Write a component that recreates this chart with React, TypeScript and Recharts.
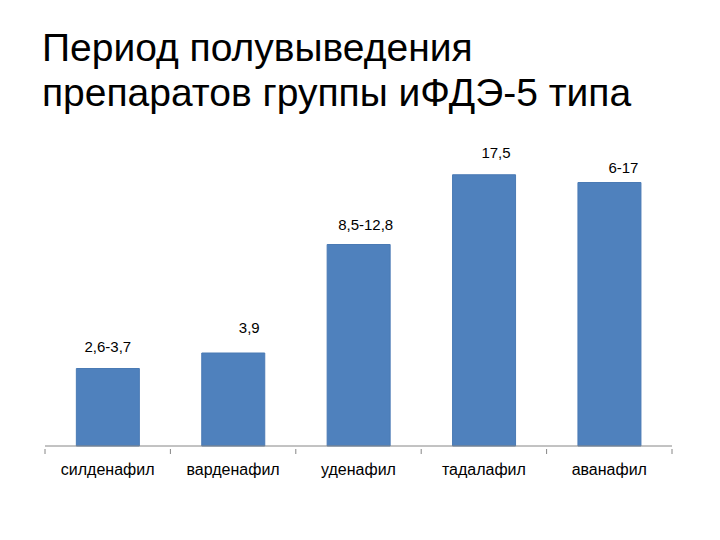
import React from "react";
import { Bar, BarChart, LabelList, XAxis, YAxis } from "recharts";

const drugs = ["силденафил", "варденафил", "уденафил", "тадалафил", "аванафил"];
const halfLifeBars = [5.0, 6.0, 13.0, 17.5, 17.0];
const halfLifeLabels = ["2,6-3,7", "3,9", "8,5-12,8", "17,5", "6-17"];

const W = 720;
const H = 540;
const M = { top: 167, right: 48, bottom: 93, left: 45 };
const BAND = (W - M.left - M.right) / drugs.length;
// nudges for the value labels, as they sit in the original slide
const labelNudge = [
  [0, 17],
  [16, 20],
  [7, 15],
  [12, 17],
  [14, 10],
];

const FONT = '"Liberation Sans", Arial, sans-serif';

const rows = drugs.map((name, i) => ({
  name,
  value: halfLifeBars[i],
  label: halfLifeLabels[i],
}));

function CategoryTick(props: any) {
  const { x, y, payload, index, visibleTicksCount } = props;
  const left = x - BAND / 2;
  const last = index === visibleTicksCount - 1;
  return (
    <g>
      <line x1={left} x2={left} y1={y - 5} y2={y} stroke="#868686" />
      {last && (
        <line x1={left + BAND} x2={left + BAND} y1={y - 5} y2={y} stroke="#868686" />
      )}
      <text x={x} y={y + 21} textAnchor="middle" fontSize={16} fontFamily={FONT} fill="#000">
        {payload.value}
      </text>
    </g>
  );
}

function ValueLabel(props: any) {
  const { x, y, width, value, index } = props;
  const [dx, dy] = labelNudge[index] ?? [0, 15];
  return (
    <text
      x={x + width / 2 + dx}
      y={y - dy}
      textAnchor="middle"
      fontSize={15}
      fontFamily={FONT}
      fill="#000"
    >
      {value}
    </text>
  );
}

export default function App() {
  return (
    <div
      style={{
        position: "fixed",
        left: 0,
        top: 0,
        width: W,
        height: H,
        background: "#fff",
      }}
    >
      <div
        style={{
          position: "absolute",
          left: 42,
          top: 25,
          fontFamily: FONT,
          fontSize: 39,
          lineHeight: "45px",
          color: "#000",
          whiteSpace: "nowrap",
        }}
      >
        Период полувыведения
        <br />
        препаратов группы иФДЭ-5 типа
      </div>
      <div style={{ position: "absolute", left: 0, top: 0 }}>
        <BarChart width={W} height={H} data={rows} margin={M} barCategoryGap="25%">
          <XAxis
            dataKey="name"
            axisLine={{ stroke: "#868686" }}
            tickLine={false}
            tick={<CategoryTick />}
            interval={0}
            height={1}
          />
          <YAxis hide domain={[0, 18]} />
          <Bar dataKey="value" fill="#4F81BD" stroke="#4A7AB4" isAnimationActive={false}>
            <LabelList dataKey="label" content={<ValueLabel />} />
          </Bar>
        </BarChart>
      </div>
    </div>
  );
}
